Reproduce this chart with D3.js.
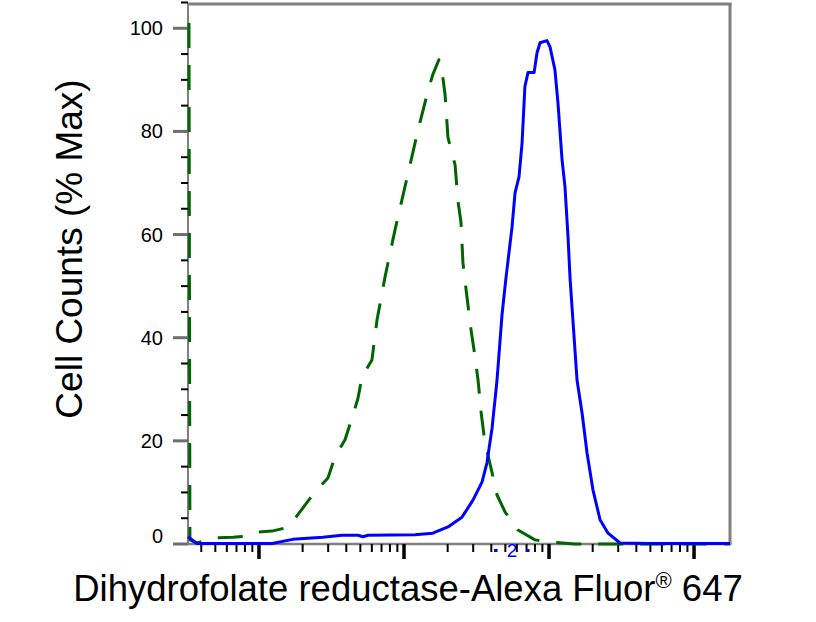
<!DOCTYPE html>
<html><head><meta charset="utf-8">
<script src="https://cdn.jsdelivr.net/npm/d3@7"></script>
<style>html,body{margin:0;padding:0;background:#fff}svg{display:block}</style>
</head><body>
<svg id="c" width="816" height="622"></svg>
<script>
// ---- data ----
const blueX = [3.24,3.73,12.3,17.1,27.6,37.3,48.2,52.1,56.5,119,158,201,251,299,345,373,405,438,474,505,556,583,621,652,682,716,789,826,867,968,1016,1099,1153,1230,1288,1352,1396,1560,1690,1828,2009,2249,2553,3090,4977,17700];
const blueY = [1.4,0.1,0.1,0.9,1.3,1.7,1.7,1.4,1.7,1.8,2.1,3.3,5.2,8.5,12.0,15.7,22.5,31.8,44.4,51.6,61.5,68.1,71.2,77.8,88.7,91.4,91.4,95.2,97.2,97.6,96.4,91.9,85.5,74.5,69.3,59.6,51.6,31.8,25.4,17.7,10.5,4.7,2.1,0.2,0.1,0.1];
const greenX = [3.29,3.34,3.73,4.98,6.62,8.67,9.84,12.3,15.1,16.4,20.1,24.3,29.9,33.4,39.2,43.8,48.2,51.3,60.1,65.2,74.0,86.7,110,125,147,158,174,183,192,201,225,236,247,255,268,276,290,304,324,340,356,379,405,438,498,611,800,1099,1510,3090,17700];
const greenY = [101,0.8,0.2,1.2,1.3,1.55,2.3,2.5,3.1,3.7,7.0,10.1,12.8,16.9,20.2,24.4,28.3,32.4,35.7,43.5,51.8,60.9,73.5,80.3,88.1,91.0,93.9,91.6,87.1,78.8,73.5,66.3,62.5,54.5,49.3,46.4,41.5,37.6,31.8,25.6,21.1,17.3,13.8,9.5,6.2,2.7,0.8,0.3,0,0,0];
const yMajorTicks = [0,20,40,60,80,100];
const yMinorTicks = [5,10,15,25,30,35,45,50,55,65,70,75,85,90,95,105];
const xDecades = [10,100,1000,10000];
const xMultipliers = [2,3,4,5,6,7,8,9];
const xDomain = [3.24, 17700];
const yDomain = [0, 104.9];
const xTitle = "Dihydrofolate reductase-Alexa Fluor";
const xTitleSup = "®";
const xTitleEnd = " 647";
const yTitle = "Cell Counts (% Max)";

// ---- layout ----
const L = 188, R = 730, T = 3, B = 544;
const svg = d3.select("#c");
const x = d3.scaleLog().domain(xDomain).range([L, R]);
const y = d3.scaleLinear().domain(yDomain).range([B, T]);
const FONT = "'Liberation Sans', Arial, sans-serif";

// frame
svg.append("line").attr("x1",L).attr("x2",R+1.5).attr("y1",T+1).attr("y2",T+1).attr("stroke","#808080").attr("stroke-width",3);
svg.append("line").attr("x1",R).attr("x2",R).attr("y1",T).attr("y2",B).attr("stroke","#808080").attr("stroke-width",3);
svg.append("line").attr("x1",L).attr("x2",L).attr("y1",T).attr("y2",B+1).attr("stroke","#808080").attr("stroke-width",2);
svg.append("line").attr("x1",L).attr("x2",R+1.5).attr("y1",B).attr("y2",B).attr("stroke","#808080").attr("stroke-width",2.5);

// y ticks
yMinorTicks.forEach(v => {
  svg.append("line").attr("x1",L-7).attr("x2",L).attr("y1",y(v)).attr("y2",y(v)).attr("stroke","#000").attr("stroke-width",2);
});
yMajorTicks.forEach(v => {
  svg.append("line").attr("x1",L-15).attr("x2",L).attr("y1",y(v)).attr("y2",y(v)).attr("stroke","#6e6e6e").attr("stroke-width",3);
  svg.append("text").attr("x",163).attr("y",y(v) + (v===0 ? -1 : 7))
    .attr("text-anchor","end").attr("font-family",FONT).attr("font-size",20).attr("fill","#000").text(v);
});

// x ticks
xDecades.forEach(d => {
  if (d >= xDomain[0] && d <= xDomain[1])
    svg.append("line").attr("x1",x(d)).attr("x2",x(d)).attr("y1",B).attr("y2",B+15).attr("stroke","#000").attr("stroke-width",3.5);
  xMultipliers.forEach(m => {
    const v = d/10*m;
    if (v > xDomain[0] && v < xDomain[1])
      svg.append("line").attr("x1",x(v)).attr("x2",x(v)).attr("y1",B).attr("y2",B+8).attr("stroke","#000").attr("stroke-width",2);
  });
});

// curves (drawn over the axes, as in the reference)
const line = d3.line().x(d => x(d[0])).y(d => y(d[1]));
svg.append("path").datum(greenX.map((v,i)=>[v,greenY[i]]))
  .attr("d", line).attr("fill","none").attr("stroke","#006400")
  .attr("stroke-width",3).attr("stroke-dasharray","25,17").attr("stroke-linejoin","round");
svg.append("path").datum(blueX.map((v,i)=>[v,blueY[i]]))
  .attr("d", line).attr("fill","none").attr("stroke","#0000ff")
  .attr("stroke-width",3).attr("stroke-linejoin","round");

// small blue gate label near axis
svg.append("rect").attr("x",x(428)-1.5).attr("y",549).attr("width",3.5).attr("height",3).attr("fill","#0000ff");
svg.append("rect").attr("x",x(711)-1.5).attr("y",549).attr("width",3.5).attr("height",3).attr("fill","#0000ff");
svg.append("text").attr("x",x(556)).attr("y",557).attr("text-anchor","middle")
  .attr("font-family",FONT).attr("font-size",19).attr("fill","#0000ff").text("2");

// titles
const xt = svg.append("text").attr("x",408).attr("y",601).attr("text-anchor","middle")
  .attr("font-family",FONT).attr("font-size",36.5).attr("fill","#000");
xt.append("tspan").text(xTitle);
xt.append("tspan").attr("font-size",22).attr("dy",-13).text(xTitleSup);
xt.append("tspan").attr("dy",13).text(xTitleEnd);

svg.append("text").attr("transform","translate(82,249) rotate(-90)").attr("text-anchor","middle")
  .attr("font-family",FONT).attr("font-size",37).attr("fill","#000").text(yTitle);
</script>
</body></html>
